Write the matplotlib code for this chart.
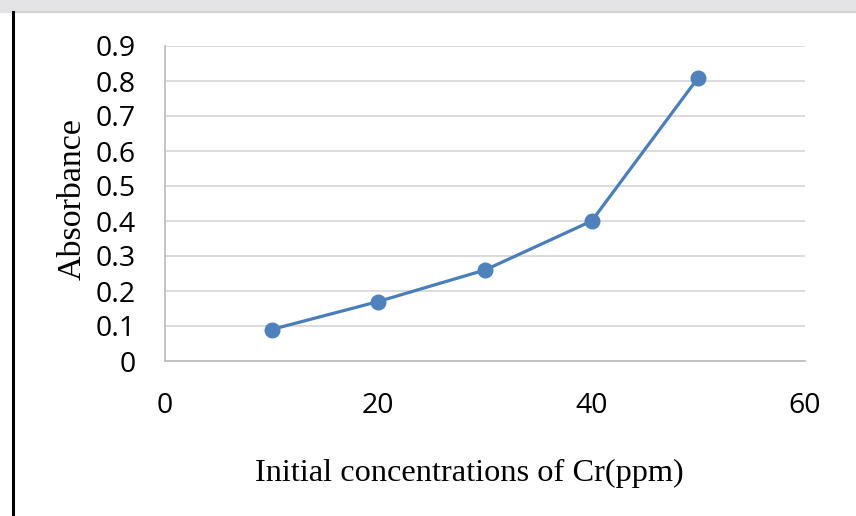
import matplotlib
matplotlib.use("Agg")
import matplotlib.pyplot as plt
from matplotlib.lines import Line2D
from matplotlib.patches import Rectangle

# data
concentration = [10, 20, 30, 40, 50]
absorbance = [0.09, 0.17, 0.26, 0.40, 0.81]
x_ticks = [0, 20, 40, 60]
y_ticks = [0, 0.1, 0.2, 0.3, 0.4, 0.5, 0.6, 0.7, 0.8, 0.9]

fig = plt.figure(figsize=(8.56, 5.16), dpi=100)
ax = fig.add_axes([165 / 856, 1 - 361 / 516, 640 / 856, 315 / 516])

ax.plot(concentration, absorbance, color="#4a7ebb", lw=2.3, marker="o",
        markersize=10.5, markerfacecolor="#4f81bd", markeredgecolor="#4f81bd", zorder=3)

ax.set_xlim(0, 60)
ax.set_ylim(0, 0.9)
ax.set_xticks(x_ticks)
ax.set_yticks(y_ticks)
ax.set_yticklabels(["0" if v == 0 else f"{v:.1f}" for v in y_ticks])
ax.tick_params(length=0, labelsize=20.5)
for lab in ax.get_xticklabels() + ax.get_yticklabels():
    lab.set_family("Open Sans")
ax.tick_params(axis="x", pad=22)
ax.tick_params(axis="y", pad=21)

ax.grid(axis="y", color="#d9d9d9", lw=1.3)
ax.set_axisbelow(True)
for s in ["top", "right"]:
    ax.spines[s].set_visible(False)
for s in ["left", "bottom"]:
    ax.spines[s].set_color("#bfbfbf")
    ax.spines[s].set_linewidth(1.3)

ax.set_xlabel("Initial concentrations of Cr(ppm)", family="Liberation Serif", fontsize=23.3)
ax.set_ylabel("Absorbance", family="Liberation Serif", fontsize=24.5)
ax.xaxis.set_label_coords(0.475, -0.31)
ax.yaxis.set_label_coords(-0.121, 0.514)

# page border remnants
fig.patches.append(Rectangle((0, 1 - 12 / 516), 1, 12 / 516, transform=fig.transFigure,
                             color="#e4e4e6", zorder=0))
fig.lines.append(Line2D([13 / 856, 1], [1 - 12 / 516] * 2, transform=fig.transFigure,
                        color="#cfcfcf", lw=1.2))
fig.lines.append(Line2D([12.5 / 856] * 2, [0, 1 - 12 / 516], transform=fig.transFigure,
                        color="black", lw=2.2))

fig.savefig("out.png", dpi=100)
